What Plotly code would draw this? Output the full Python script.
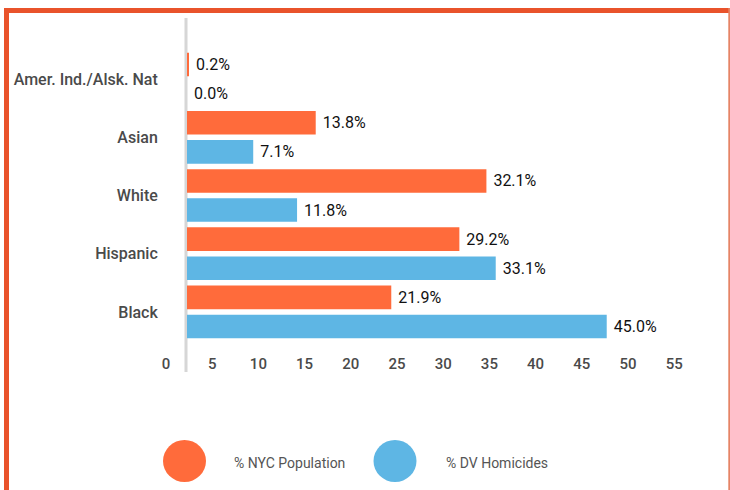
import plotly.graph_objects as go

categories = ["Amer. Ind./Alsk. Nat", "Asian", "White", "Hispanic", "Black"]
nyc_population = [0.2, 13.8, 32.1, 29.2, 21.9]
dv_homicides = [0.0, 7.1, 11.8, 33.1, 45.0]
series_names = ["% NYC Population", "% DV Homicides"]
tick_values = [0, 5, 10, 15, 20, 25, 30, 35, 40, 45, 50, 55]

ORANGE = "#FF6B3B"
BLUE = "#5EB6E4"
BORDER = "#E9532B"
FONT = "Roboto"

W, H = 730, 490
L, R, T, B = 187, 30, 50, 149
PW, PH = W - L - R, H - T - B


def px(xp):
    return (xp - L) / PW


def py(yp):
    return (H - B - yp) / PH


fig = go.Figure()
for name, vals, col in [(series_names[0], nyc_population, ORANGE),
                        (series_names[1], dv_homicides, BLUE)]:
    fig.add_trace(go.Bar(
        y=categories, x=vals, orientation="h", name=name,
        marker=dict(color=col, line=dict(width=0)),
        text=[f"\u00a0{v:.1f}%" for v in vals], textposition="outside",
        textfont=dict(family=FONT, size=16, color="#111111"),
        cliponaxis=False, showlegend=False,
    ))

# invisible helper trace so the tick-label axis is drawn
fig.add_trace(go.Scatter(x=[tick_values[0]], y=[categories[0]], xaxis="x2",
                         mode="none", hoverinfo="skip", showlegend=False))

shapes = [
    dict(type="line", xref="paper", yref="paper", x0=px(186), x1=px(186),
         y0=py(18), y1=py(372), line=dict(color="#D6D6D6", width=3), layer="below"),
    dict(type="rect", xref="paper", yref="paper", x0=px(4), x1=px(731),
         y0=py(8), y1=py(13), fillcolor=BORDER, line=dict(width=0)),
    dict(type="rect", xref="paper", yref="paper", x0=px(4), x1=px(9),
         y0=py(8), y1=py(492), fillcolor=BORDER, line=dict(width=0)),
    dict(type="rect", xref="paper", yref="paper", x0=px(728.3), x1=px(731),
         y0=py(8), y1=py(492), fillcolor="#E58466", line=dict(width=0)),
    dict(type="circle", xref="paper", yref="paper", x0=px(163), x1=px(206),
         y0=py(440), y1=py(482), fillcolor=ORANGE, line=dict(width=0)),
    dict(type="circle", xref="paper", yref="paper", x0=px(373.5), x1=px(416.5),
         y0=py(440), y1=py(482), fillcolor=BLUE, line=dict(width=0)),
]

annotations = [
    dict(text=series_names[0], xref="paper", yref="paper", x=px(232), y=py(463),
         xanchor="left", yanchor="middle", showarrow=False,
         font=dict(family=FONT, size=14, color="#555555")),
    dict(text=series_names[1], xref="paper", yref="paper", x=px(444), y=py(463),
         xanchor="left", yanchor="middle", showarrow=False,
         font=dict(family=FONT, size=14, color="#555555")),
]

fig.update_layout(
    width=W, height=H,
    margin=dict(l=L, r=R, t=T, b=B, pad=0),
    paper_bgcolor="white", plot_bgcolor="white",
    barmode="group", bargap=0.0, bargroupgap=0.19,
    font=dict(family=FONT),
    shapes=shapes, annotations=annotations,
    xaxis=dict(range=[0, 55], showticklabels=False, showgrid=False,
               zeroline=False, showline=False, fixedrange=True),
    xaxis2=dict(overlaying="x", side="bottom", range=[0, PW / 9.24],
                tickvals=tick_values, showgrid=False, zeroline=False,
                showline=False, ticks="outside", ticklen=9,
                tickcolor="rgba(0,0,0,0)", ticklabelshift=-21,
                tickfont=dict(family=FONT, size=15, color="#4a4a4a", weight=500)),
    yaxis=dict(categoryorder="array", categoryarray=categories,
               range=[4.5, -0.5], showgrid=False, zeroline=False,
               showline=False, ticks="outside", ticklen=25,
               tickcolor="rgba(0,0,0,0)",
               tickfont=dict(family=FONT, size=16, color="#4a4a4a", weight=500)),
)

fig.write_html("out.html", config={"displayModeBar": False},
               post_script="document.body.style.margin='0px';")
